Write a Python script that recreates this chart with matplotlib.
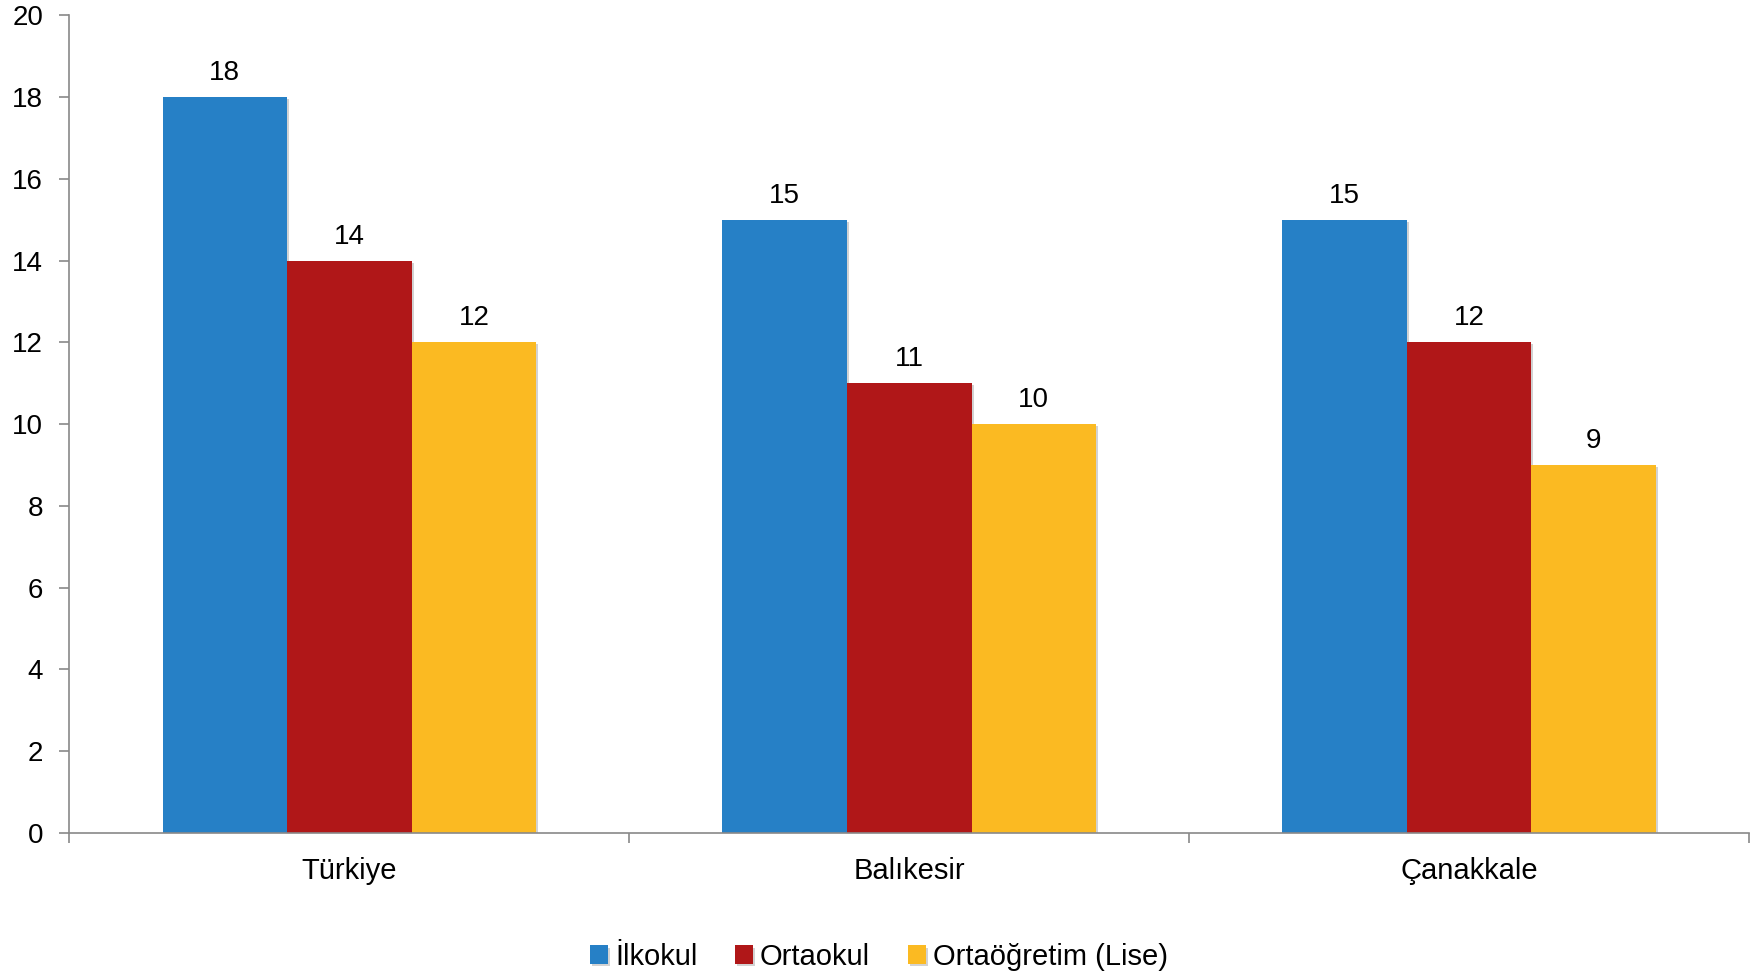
import matplotlib
matplotlib.use("Agg")
import matplotlib.pyplot as plt
import matplotlib.patheffects as pe
import numpy as np

categories = ["Türkiye", "Balıkesir", "Çanakkale"]
series_names = ["İlkokul", "Ortaokul", "Ortaöğretim (Lise)"]
ilkokul = [18, 15, 15]
ortaokul = [14, 11, 12]
ortaogretim = [12, 10, 9]
yticks = [0, 2, 4, 6, 8, 10, 12, 14, 16, 18, 20]

colors = ["#2680C6", "#B01718", "#FBBA22"]
plt.rcParams["font.family"] = ["Liberation Sans", "DejaVu Sans"]

fig = plt.figure(figsize=(17.58, 9.76), dpi=100)
ax = fig.add_axes([0.0395, 0.1465, 0.9554, 0.8378])

x = np.arange(len(categories))
w = 0.2225
shadow = [pe.SimplePatchShadow(offset=(1.5, -1.5), shadow_rgbFace="#808080", alpha=0.35), pe.Normal()]
handles = []
for i, (vals, name, c) in enumerate(zip([ilkokul, ortaokul, ortaogretim], series_names, colors)):
    pos = x + (i - 1) * w
    bars = ax.bar(pos, vals, width=w, color=c, label=name, zorder=3)
    for b in bars:
        b.set_path_effects(shadow)
    handles.append(bars)
    for p, v in zip(pos, vals):
        ax.annotate(str(v), (p, v), xytext=(0, 8), textcoords="offset points",
                    ha="center", va="bottom", fontsize=20, color="black")

ax.set_xlim(-0.5, 2.5)
ax.set_ylim(0, 20)
ax.set_yticks(yticks)
ax.set_xticks([-0.5, 0.5, 1.5, 2.5])
ax.set_xticklabels([])
ax.set_xticks(x, minor=True)
ax.set_xticklabels(categories, minor=True, fontsize=21)
ax.tick_params(axis="x", which="minor", length=0, pad=17)
ax.tick_params(axis="x", which="major", length=7, color="#898989", width=1.2)
ax.tick_params(axis="y", length=7, color="#898989", width=1.2, labelsize=20, pad=12)

for s in ["top", "right"]:
    ax.spines[s].set_visible(False)
for s in ["left", "bottom"]:
    ax.spines[s].set_color("#898989")
    ax.spines[s].set_linewidth(1.2)
    ax.spines[s].set_zorder(4)

leg = fig.legend(handles=handles, labels=series_names, loc="center",
                 bbox_to_anchor=(0.5, 1 - 957 / 976), ncol=3, frameon=False,
                 fontsize=21, handlelength=0.6, handleheight=0.6, handletextpad=0.25,
                 columnspacing=1.3)

fig.savefig("out.png", dpi=100)
